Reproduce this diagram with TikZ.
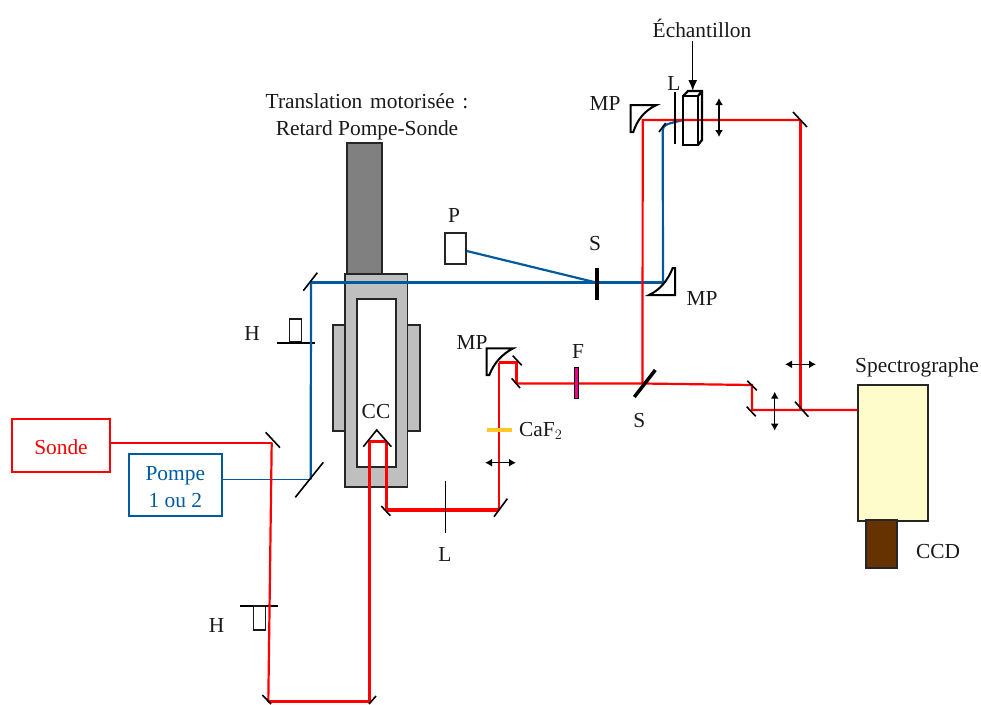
\documentclass[tikz,border=0pt]{standalone}
\usepackage{fontspec}
\setmainfont{Liberation Serif}
\usepackage{xcolor}
\usetikzlibrary{arrows.meta,positioning,calc}
\definecolor{pumpblue}{RGB}{0,90,160}
\definecolor{probered}{RGB}{255,0,0}
\definecolor{caf}{RGB}{255,200,40}
\newcommand{\lowtext}[1]{\raisebox{-2.3pt}[\height][\depth]{#1}}
\begin{document}
\begin{tikzpicture}[x=1pt,y=-1pt, every node/.style={font=\fontsize{21.4}{27}\selectfont,text=black!90}, lbl/.style={inner sep=0pt,align=center}, box/.style={draw,line width=1.7pt,inner sep=0pt,align=center}, optic/.style={draw=black,line width=2pt}, mir/.style={draw=black,line width=1.6pt}, grayb/.style={draw=black!85,line width=1.7pt,fill=black!25}, probe/.style={draw=probered,line width=2.2pt}, probeb/.style={draw=probered,line width=3.3pt}, pump/.style={draw=pumpblue,line width=2.2pt}, dbl/.style={{Latex[length=7pt,width=8pt]}-{Latex[length=7pt,width=8pt]},line width=1.5pt,black}]
\useasboundingbox (0,0) rectangle (981,704);
\coordinate (m1) at (271.7,442.7);
\coordinate (m2) at (268.3,701.7);
\coordinate (m3) at (369.3,701.7);
\coordinate (cca) at (369.3,441.7);
\coordinate (ccb) at (386.7,441.7);
\coordinate (m4) at (386.7,510);
\coordinate (m5) at (499.3,510);
\coordinate (mpa) at (499.3,362.7);
\coordinate (m6) at (516.7,362.7);
\coordinate (m7) at (516.7,383.5);
\coordinate (sb) at (642.5,383.5);
\coordinate (mpb) at (642.7,120);
\coordinate (m8) at (800.7,120);
\coordinate (m9) at (800.7,410);
\coordinate (m10) at (752,385);
\coordinate (m11) at (752,410);
\coordinate (m12) at (311,282.7);
\coordinate (m13) at (310.7,479.3);
\coordinate (sa) at (597,282.7);
\coordinate (mpc) at (663,282.7);
\coordinate (m14) at (662.7,130);
\coordinate (ech) at (683,120);
% boxes
\node[box,draw=probered,text=probered,minimum width=98pt,minimum height=53pt] (sonde) at (61,445.3) {\lowtext{Sonde}};
\node[box,draw=pumpblue,line width=1.5pt,text=pumpblue,minimum width=93pt,minimum height=62pt] (pompe) at (175.3,485.2) {\lowtext{Pompe}\\\lowtext{1 ou 2}};
\node[draw=black!85,line width=1.5pt,fill=yellow!20,minimum width=70pt,minimum height=136pt,inner sep=0pt] (spectro) at (893,453) {};
\node[draw=black!85,line width=1.5pt,fill={rgb,255:red,102;green,51;blue,0},minimum width=31pt,minimum height=48pt,inner sep=0pt] (ccd) at (881.5,544) {};
\node[draw=black!85,line width=1.5pt,minimum width=21pt,minimum height=31pt,inner sep=0pt] (pbox) at (455.5,248.5) {};
% translation
\node[draw=black!85,line width=1.5pt,fill=black!50,minimum width=35pt,minimum height=131pt,inner sep=0pt] (stage) at (364.5,208.5) {};
\node[grayb,minimum width=12.4pt,minimum height=106.3pt,inner sep=0pt] (sidel) at (339.5,377.8) {};
\node[grayb,minimum width=12.4pt,minimum height=106.3pt,inner sep=0pt] (sider) at (413.5,377.8) {};
\node[grayb,minimum width=62.3pt,minimum height=212.7pt,inner sep=0pt] (chariot) at (376.2,380.3) {};
\node[draw=black!85,line width=1.7pt,fill=white,minimum width=39pt,minimum height=168pt,inner sep=0pt] (window) at (376.5,382.7) {};
% labels
\node[lbl] (ltrans) at (367,116.5) {Translation\hspace{7.8pt}motorisée\hspace{7.8pt}:\\Retard Pompe-Sonde};
\node[lbl] (lech) at (702,28) {Échantillon};
\node[lbl] (ll1) at (674,83) {L};
\node[lbl] (lmp1) at (605,103) {MP};
\node[lbl] (lp) at (454,215) {P};
\node[lbl] (ls1) at (595,244) {S};
\node[lbl] (lmp2) at (702,298) {MP};
\node[lbl] (lh1) at (252,333) {H};
\node[lbl] (lmp3) at (472,342) {MP};
\node[lbl] (lf) at (578,351) {F};
\node[lbl] (lcc) at (376,412) {CC};
\node[lbl] (ls2) at (639.3,421) {S};
\node[lbl,anchor=west] (lcaf) at (519,431) {CaF$_2$};
\node[lbl] (ll2) at (445,554) {L};
\node[lbl] (lh2) at (216.7,625) {H};
\node[lbl] (lspec) at (917,367) {Spectrographe};
\node[lbl] (lccd) at (938,552) {CCD};
% hacheurs
\draw[mir] (276.7,342.7)--(314.7,342.7);
\node[draw=black!90,line width=1.5pt,minimum width=11.6pt,minimum height=22.7pt,inner sep=0pt] (hacha) at (295.5,330.3) {};
\draw[mir] (240,605.7)--(277.7,605.7);
\node[draw=black!90,line width=1.5pt,minimum width=12.4pt,minimum height=24pt,inner sep=0pt] (hachb) at (259.5,618) {};
% beams
\draw[pump] (pbox.east |- 0,251) -- (sa);
\draw[pump,line width=1.6pt] (pompe.east |- m13) -- (m13);
\draw[pump] (m13) -- (m12);
\draw[pump,line width=3.3pt] (m12) -- (mpc);
\draw[pump] (mpc) -- (m14) .. controls (663,124) and (668,124) .. (ech);
\draw[probe] (sonde.east |- m1) -- (m1);
\draw[probe] (m1) -- (m2);
\draw[probeb] (m2) -- (m3) -- (cca) -- (ccb);
\draw[probe,line width=2.7pt] (ccb) -- (m4);
\draw[probeb] (m4) -- (m5);
\draw[probe] (m5) -- (mpa);
\draw[probeb] (mpa) -- (m6) -- (m7);
\draw[probe] (m7) -- (sb) -- (mpb) -- (m8);
\draw[probeb] (m8) -- (m9);
\draw[probe] (sb) -- (m10) -- (m11) -- (m9) -- (spectro.west |- m9);
% mirrors
\draw[mir] (265.7,432.3)--(280,447.7);
\draw[mir] (262.3,695)--(271,704);
\draw[mir] (376,696)--(369,704);
\draw[mir] (303.3,290.7)--(317.3,272.7);
\draw[mir] (295.3,497.3)--(323.3,462.3);
\draw[mir] (381.3,506)--(390.3,515.7);
\draw[mir] (494,516.7)--(507.3,498.7);
\draw[mir] (512.7,355.7)--(521.7,365.3);
\draw[mir] (511.7,378.3)--(520,388);
\draw[mir] (747.3,380.7)--(756.7,390.3);
\draw[mir] (746.7,406.7)--(755.7,416.3);
\draw[mir] (795,401.7)--(808.3,416.7);
\draw[mir] (793,112)--(807,127);
\draw[mir] (659,132)--(665.7,123);
\draw[mir] (445.3,480.7)--(445.3,533.3);
\draw[mir] (675,92)--(675,144);
\draw[mir] (363.3,446.7)--(376.7,430)--(391.3,446.7);
% splitters
\draw[black,line width=4.5pt] (597,268)--(597,300);
\draw[black,line width=3.5pt] (634.3,397)--(655.3,370);
% paraboles
\draw[optic] (630.7,105)--(656.7,105) .. controls (645,110) and (637,120) .. (633.3,132)--(630.7,132)--cycle;
\draw[optic] (675,268)--(675,295)--(649,295) .. controls (660,290) and (668,280) .. (672.7,268)--cycle;
\draw[optic] (486.7,348.3)--(513.3,348.3) .. controls (502,354) and (494,363) .. (489.3,375)--(486.7,375)--cycle;
% filtres
\node[draw=black,line width=1.2pt,fill=magenta,minimum width=3.6pt,minimum height=31pt,inner sep=0pt] (filtre) at (576.3,382.7) {};
\draw[caf,line width=4pt] (487.3,430)--(512.3,430);
% cuvette
\draw[optic,line width=2.2pt] (683.3,96) rectangle (698,145);
\draw[optic,line width=2.2pt] (683.3,96)--(688,91)--(702,91)--(702,140)--(698,145) (698,96)--(702,91);
% fleches
\draw[-{Latex[length=11pt,width=9pt]},line width=1.5pt,black] (692.7,41)--(692.7,91);
\draw[dbl] (719,98)--(719,137);
\draw[dbl] (485,462.7)--(516,462.7);
\draw[dbl] (774.7,391.7)--(774.7,430.7);
\draw[dbl] (785,364.3)--(816,364.3);
\end{tikzpicture}
\end{document}
